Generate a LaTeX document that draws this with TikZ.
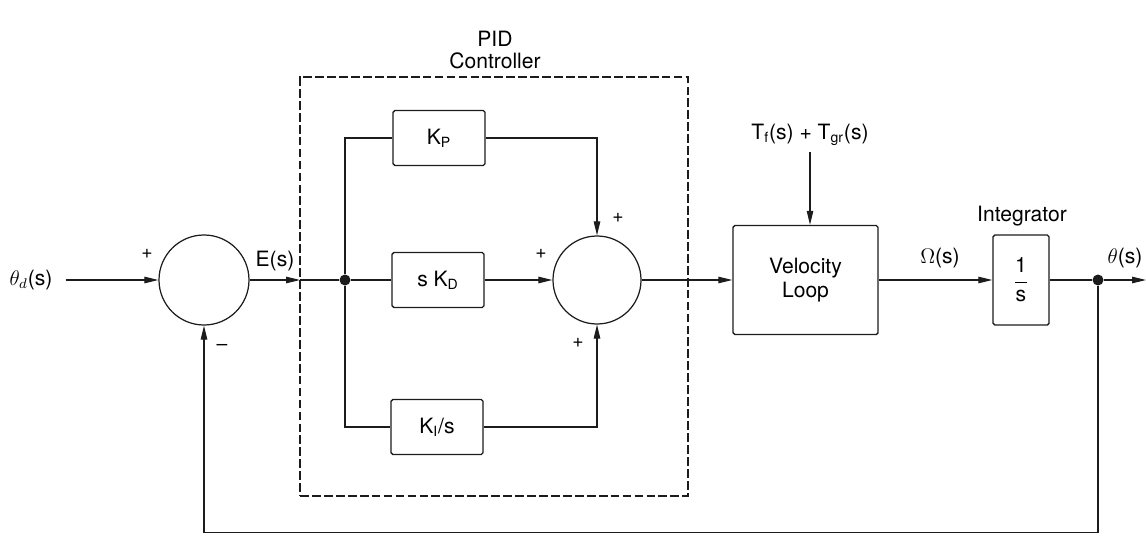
\documentclass[tikz,border=0pt]{standalone}
\usepackage{fontspec}
\setmainfont{TeX Gyre Heros}
\usetikzlibrary{arrows.meta,positioning}
\definecolor{ScanInk}{HTML}{1C1C1C}

\begin{document}
\begin{tikzpicture}[
  font=\fontsize{12}{14}\selectfont,
  block/.style={draw=ScanInk, line width=0.8pt, rounded corners=1pt,
                inner sep=0pt, minimum width=1.84cm, minimum height=1.1cm},
  sumnode/.style={circle, draw=ScanInk, line width=0.7pt,
                  minimum size=1.8cm, inner sep=0pt},
  frame/.style={draw=ScanInk, line width=0.7pt,
                dash pattern=on 5pt off 1.8pt, inner sep=0pt},
  junction/.style={circle, fill=ScanInk, minimum size=2.2mm, inner sep=0pt},
  sign/.style={inner sep=0pt, font=\fontsize{11}{13}\selectfont},
  wire/.style={line width=0.6pt, draw=ScanInk},
  link/.style={-{Triangle[length=2.8mm, width=1.3mm]}, line width=0.6pt, draw=ScanInk}
]
\useasboundingbox (0,0) rectangle (22.92,10.7);
% input and error summer
\node (ref) at (0.62,5.1) {$\theta_d$(s)};
\node[sumnode] (sum1) at (4.08,5.1) {};
\node[sign] (sum1p) at (2.94,5.62) {+};
\node[sign] (sum1m) at (4.44,3.76) {--};
\node (err) at (5.5,5.48) {E(s)};
\coordinate (pidin) at (6.0,5.1);
% PID controller
\node[frame, minimum width=7.76cm, minimum height=8.38cm] (pid) at (9.88,4.97) {};
\node[align=center] (pidlabel) at (9.9,9.7) {PID\\[-2pt]Controller};
\node[junction] (split) at (6.9,5.1) {};
\node[block] (kp) at (8.78,7.94) {K\textsubscript{P}};
\node[block] (kd) at (8.76,5.1) {s K\textsubscript{D}};
\node[block] (ki) at (8.74,2.16) {K\textsubscript{I}/s};
\node[sumnode, minimum size=1.76cm] (sum2) at (11.94,5.1) {};
\node[sign] (sum2t) at (12.36,6.34) {+};
\node[sign] (sum2l) at (10.82,5.62) {+};
\node[sign] (sum2b) at (11.56,3.84) {+};
% velocity loop and integrator
\node[block, minimum width=2.9cm, minimum height=2.18cm, align=center] (vel)
  at (16.11,5.1) {Velocity\\Loop};
\node (dist) at (16.2,8.0) {T\textsubscript{f}(s) + T\textsubscript{gr}(s)};
\node (omega) at (18.8,5.54) {$\Omega$(s)};
\node[block, minimum width=1.12cm, minimum height=1.8cm] (integ)
  at (20.42,5.1) {$\displaystyle\frac{\mbox{1}}{\mbox{s}}$};
\node (integlabel) at (20.44,6.38) {Integrator};
\node[junction] (tap) at (21.96,5.1) {};
\node (theta) at (22.5,5.54) {$\theta$(s)};
\coordinate (out) at (22.92,5.1);
\coordinate (fb) at (21.96,0.05);
% connectors
\draw[link, shorten <=4pt] (ref.east) -- (sum1.west);
\draw[link] (sum1.east) -- (pidin);
\draw[wire] (pidin) -- (split);
\draw[wire] (split) -- (kd.west);
\draw[wire] (split) |- (kp.west);
\draw[wire] (split) |- (ki.west);
\draw[link] (kp.east) -| (sum2.north);
\draw[link] (kd.east) -- (sum2.west);
\draw[link] (ki.east) -| (sum2.south);
\draw[link] (sum2.east) -- (vel.west);
\draw[link] (dist.south) -- (dist.south |- vel.north);
\draw[link] (vel.east) -- (integ.west);
\draw[wire] (integ.east) -- (tap);
\draw[link] (tap) -- (out);
\draw[link] (tap) -- (fb) -| (sum1.south);
\end{tikzpicture}
\end{document}
